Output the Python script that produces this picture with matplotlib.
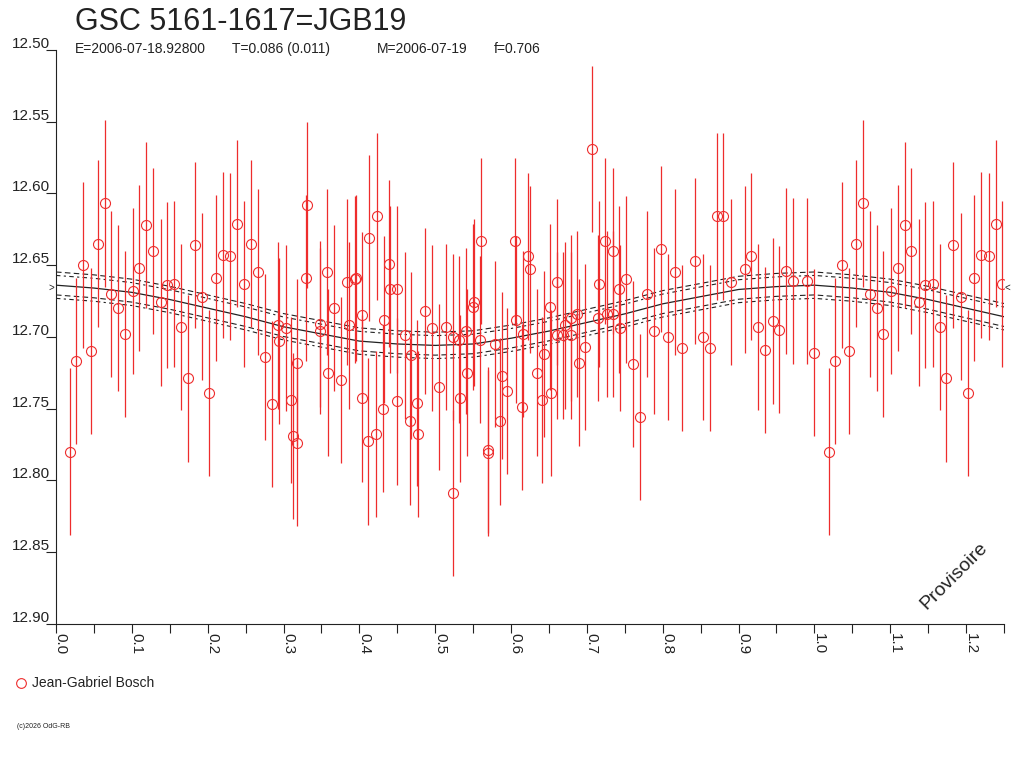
import numpy as np
import matplotlib
matplotlib.use("Agg")
import matplotlib.pyplot as plt
from matplotlib.lines import Line2D

plt.rcParams['font.family'] = ['Liberation Sans', 'DejaVu Sans']

RED = "#ee2c2c"

PHASE = [0.019, 0.027, 0.036, 0.046, 0.055, 0.064, 0.073, 0.082, 0.091, 0.101,
         0.110, 0.119, 0.128, 0.138, 0.146, 0.156, 0.165, 0.174, 0.183, 0.193,
         0.202, 0.211, 0.220, 0.230, 0.239, 0.248, 0.257, 0.267, 0.276, 0.285,
         0.293, 0.294, 0.303, 0.310, 0.312, 0.318, 0.318, 0.329, 0.331, 0.348,
         0.348, 0.357, 0.358, 0.367, 0.376, 0.384, 0.386, 0.394, 0.395, 0.403,
         0.404, 0.412, 0.413, 0.422, 0.423, 0.431, 0.432, 0.439, 0.441, 0.449,
         0.450, 0.460, 0.467, 0.468, 0.476, 0.477, 0.486, 0.496, 0.505, 0.514,
         0.523, 0.523, 0.532, 0.533, 0.541, 0.542, 0.550, 0.551, 0.559, 0.560,
         0.569, 0.570, 0.579, 0.586, 0.588, 0.595, 0.605, 0.607, 0.614, 0.616,
         0.623, 0.625, 0.634, 0.641, 0.643, 0.651, 0.653, 0.660, 0.661, 0.669,
         0.671, 0.679, 0.679, 0.687, 0.689, 0.698, 0.707, 0.715, 0.716, 0.724,
         0.726, 0.734, 0.735, 0.743, 0.744, 0.752, 0.761, 0.770, 0.779, 0.789,
         0.798, 0.807, 0.816, 0.825, 0.843, 0.853, 0.862, 0.871, 0.880, 0.890,
         0.908, 0.917, 0.926, 0.935, 0.945, 0.953, 0.963, 0.972, 0.990, 0.9996]
MAG = [12.780, 12.717, 12.650, 12.710, 12.635, 12.607, 12.670, 12.680, 12.698, 12.668,
       12.652, 12.622, 12.640, 12.676, 12.664, 12.663, 12.693, 12.729, 12.636, 12.672,
       12.739, 12.659, 12.643, 12.644, 12.621, 12.663, 12.635, 12.655, 12.714, 12.747,
       12.692, 12.703, 12.694, 12.744, 12.769, 12.718, 12.774, 12.659, 12.608, 12.691,
       12.696, 12.655, 12.725, 12.680, 12.730, 12.662, 12.692, 12.660, 12.659, 12.743,
       12.685, 12.773, 12.631, 12.768, 12.616, 12.750, 12.688, 12.649, 12.667, 12.745,
       12.667, 12.699, 12.759, 12.713, 12.746, 12.768, 12.682, 12.694, 12.735, 12.693,
       12.700, 12.809, 12.702, 12.743, 12.696, 12.725, 12.679, 12.676, 12.702, 12.633,
       12.779, 12.781, 12.705, 12.759, 12.727, 12.738, 12.633, 12.688, 12.749, 12.698,
       12.644, 12.653, 12.725, 12.744, 12.712, 12.679, 12.739, 12.699, 12.662, 12.699,
       12.692, 12.699, 12.687, 12.684, 12.718, 12.707, 12.569, 12.687, 12.663, 12.633,
       12.684, 12.684, 12.640, 12.667, 12.694, 12.660, 12.719, 12.756, 12.670, 12.696,
       12.639, 12.700, 12.655, 12.708, 12.647, 12.700, 12.708, 12.616, 12.616, 12.662,
       12.653, 12.644, 12.693, 12.709, 12.689, 12.695, 12.654, 12.661, 12.661, 12.711]
ERR = 0.058

# fitted light curve, read at steps of 0.05 in phase
CURVE_PHASE = [0.00, 0.05, 0.10, 0.15, 0.20, 0.25, 0.30, 0.35, 0.40, 0.45, 0.50,
               0.55, 0.60, 0.65, 0.70, 0.75, 0.80, 0.85, 0.90, 0.95, 1.00,
               1.05, 1.10, 1.15, 1.20, 1.25]
CURVE_MAG = [12.664, 12.666, 12.669, 12.674, 12.680, 12.686, 12.693, 12.698, 12.703,
             12.705, 12.706, 12.705, 12.701, 12.696, 12.690, 12.684, 12.677, 12.672,
             12.667, 12.665, 12.664, 12.666, 12.669, 12.674, 12.680, 12.686]
ENV_OFFSETS = [-0.0092, -0.0068, 0.0068, 0.0092]
MEAN_MAG = 12.666

YTICKS = [12.50, 12.55, 12.60, 12.65, 12.70, 12.75, 12.80, 12.85, 12.90]
XTICKS = [0.0, 0.1, 0.2, 0.3, 0.4, 0.5, 0.6, 0.7, 0.8, 0.9, 1.0, 1.1, 1.2]
XMINOR = [0.05, 0.15, 0.25, 0.35, 0.45, 0.55, 0.65, 0.75, 0.85, 0.95, 1.05, 1.15, 1.25]

W, H = 1024, 768
fig = plt.figure(figsize=(W / 100, H / 100), dpi=100)
ax = fig.add_axes([56 / W, 1 - 623.6 / H, (1004 - 56) / W, (623.6 - 50) / H])

# data repeated past phase 1
ph = np.array(PHASE)
mg = np.array(MAG)
rep = ph < 0.25
x = np.concatenate([ph, ph[rep] + 1])
y = np.concatenate([mg, mg[rep]])

cp = np.array(CURVE_PHASE)
cm = np.array(CURVE_MAG)
ax.plot(cp, cm, color="#222222", lw=0.9, zorder=2)
for i, off in enumerate(ENV_OFFSETS):
    ax.plot(cp, cm + off, color="#222222", lw=0.8,
            dashes=(5, 3) if i % 2 == 0 else (4, 3, 2, 3), zorder=2)

ax.errorbar(x, y, yerr=ERR, fmt="o", mfc="none", mec=RED, ms=7.2, mew=0.8,
            ecolor=RED, elinewidth=0.9, capsize=0, zorder=3)

ax.set_xlim(0, 1.25)
ax.set_ylim(12.90, 12.50)

for s in ["top", "right"]:
    ax.spines[s].set_visible(False)
for s in ["left", "bottom"]:
    ax.spines[s].set_linewidth(0.8)
    ax.spines[s].set_color("#222222")

ax.set_yticks(YTICKS)
ax.set_xticks(XTICKS)
ax.set_xticks(XMINOR, minor=True)
ax.tick_params(axis="y", direction="out", length=7.2, width=0.8, color="#222222",
               labelleft=False)
ax.tick_params(axis="x", which="both", direction="out", length=6.2, width=0.8,
               color="#222222", labelbottom=False)

for v in YTICKS:
    ax.annotate(f"{v:.2f}", xy=(0, v), xycoords=("axes fraction", "data"),
                xytext=(-4.3, 1.4), textcoords="offset points",
                ha="right", va="baseline", fontsize=11, color="#222222")
for v in XTICKS:
    ax.annotate(f"{v:.1f}", xy=(v, 0), xycoords=("data", "axes fraction"),
                xytext=(0.5, -6.8), textcoords="offset points", rotation=-90,
                rotation_mode="anchor", ha="left", va="baseline",
                fontsize=11, color="#222222")

# mean level markers
ax.annotate(">", xy=(0, MEAN_MAG), xycoords=("axes fraction", "data"),
            xytext=(-3, 0), textcoords="offset points", ha="center", va="center",
            fontsize=7, color="#222222", annotation_clip=False)
ax.annotate("<", xy=(1, MEAN_MAG), xycoords=("axes fraction", "data"),
            xytext=(2.5, 0), textcoords="offset points", ha="center", va="center",
            fontsize=7, color="#222222", annotation_clip=False)

# header
fig.text(75 / W, 1 - 30 / H, "GSC 5161-1617=JGB19", fontsize=22,
         va="baseline", ha="left", color="#222222")
for xp, s in [(75, "E=2006-07-18.92800"), (231.7, "T=0.086 (0.011)"),
              (376.7, "M=2006-07-19"), (493.3, "f=0.706")]:
    fig.text(xp / W, 1 - 52.7 / H, s, fontsize=10, va="baseline", ha="left",
             color="#222222")

# legend
fig.add_artist(Line2D([21 / W], [1 - 682.7 / H], marker="o", ms=7, mfc="none",
                      mec=RED, mew=0.8, transform=fig.transFigure))
fig.text(31.7 / W, 1 - 682.7 / H, "Jean-Gabriel Bosch", fontsize=10,
         va="center", ha="left", color="#222222")
fig.text(17 / W, 1 - 728 / H, "(c)2026 OdG-RB", fontsize=5,
         va="baseline", ha="left", color="#222222")

fig.text(954 / W, 1 - 576 / H, "Provisoire", fontsize=14, rotation=45,
         rotation_mode="anchor", ha="center", va="center", color="#222222")

fig.savefig("out.png", dpi=100)
